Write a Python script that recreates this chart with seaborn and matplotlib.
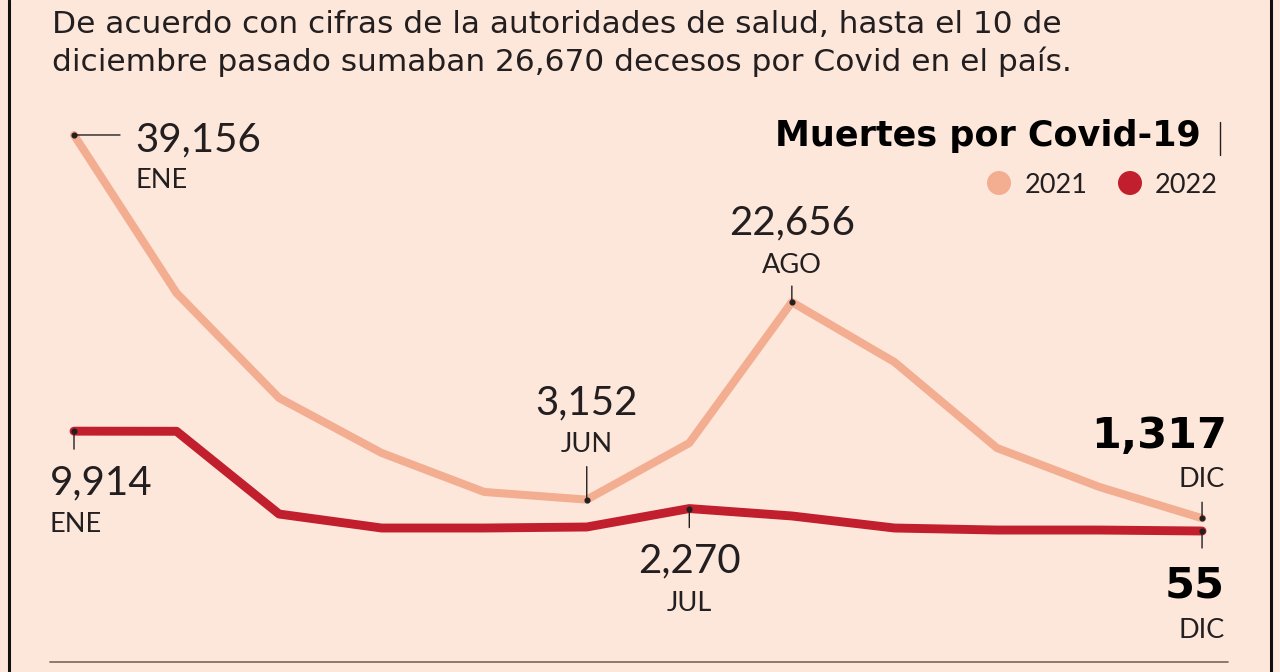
import matplotlib
matplotlib.use("Agg")
import matplotlib.pyplot as plt
from matplotlib.transforms import Affine2D
from matplotlib.patches import Circle
import seaborn as sns
import pandas as pd

# ---------------- data ----------------
months = ["ENE", "FEB", "MAR", "ABR", "MAY", "JUN",
          "JUL", "AGO", "SEP", "OCT", "NOV", "DIC"]
deaths_2021 = [39156, 23550, 13190, 7760, 3910, 3152,
               8740, 22656, 16740, 8250, 4400, 1317]
deaths_2022 = [9914, 9900, 1730, 350, 350, 450,
               2270, 1540, 350, 150, 150, 55]
years = ["2021", "2022"]
intro_lines = ["De acuerdo con cifras de la autoridades de salud, hasta el 10 de",
               "diciembre pasado sumaban 26,670 decesos por Covid en el país."]
chart_title = "Muertes por Covid-19"

# ---------------- style ----------------
BG = "#fde7da"
C21 = "#f3ad91"
C22 = "#c11f2d"
INK = "#231f20"
W, H = 1280, 672

sns.set_theme(style="white")
plt.rcParams["font.family"] = ["Lato", "DejaVu Sans"]
HEAD_FONT = ["DejaVu Sans"]
BOLD_FONT = ["DejaVu Sans"]

df = pd.DataFrame({
    "mes": list(range(12)) * 2,
    "muertes": deaths_2021 + deaths_2022,
    "año": [years[0]] * 12 + [years[1]] * 12,
})

fig = plt.figure(figsize=(W / 100, H / 100), dpi=100, facecolor=BG)
ax = fig.add_axes([0, 0, 1, 1])
ax.set_facecolor(BG)

sns.lineplot(data=df, x="mes", y="muertes", hue="año",
             palette={years[0]: C21, years[1]: C22}, ax=ax,
             legend=False, sort=True, estimator=None)
for ln, lw in zip(ax.lines, [5.8, 6.4]):
    ln.set_linewidth(lw)
    ln.set_solid_capstyle("round")
    ln.set_solid_joinstyle("round")

# map data to pixel layout (x: ENE at px 74, step 102.55 ; y: 0 at px 531.6)
step = 102.55
ax.set_xlim(-74 / step, (W - 74) / step)
k = 0.010128
ax.set_ylim((531.56 - H) / k, 531.56 / k)
ax.axis("off")

# pixel transform (origin top-left)
px = Affine2D().scale(1, -1).translate(0, H)

# ---------------- annotations ----------------
def tick(i, v, dx, dy):
    ax.annotate("", xy=(i, v), xytext=(dx, dy), textcoords="offset pixels",
                arrowprops=dict(arrowstyle="-", lw=1.0, color=INK,
                                shrinkA=0, shrinkB=0))
    ax.plot([i], [v], "o", ms=3.4, color=INK, zorder=5)

def label(i, v, txt, dx, dy, size, ha="center", bold=False):
    if bold:
        ax.annotate(txt, xy=(i, v), xytext=(dx, dy), textcoords="offset pixels",
                    ha=ha, va="baseline", fontsize=size, color="black",
                    fontweight="bold", family=BOLD_FONT)
    else:
        ax.annotate(txt, xy=(i, v), xytext=(dx, dy), textcoords="offset pixels",
                    ha=ha, va="baseline", fontsize=size, color=INK,
                    fontweight="normal")

NUM = 29
MON = 19.5
BNUM = 31

# 2021 ENE
i = 0; v = deaths_2021[i]
tick(i, v, 46, 0)
label(i, v, f"{v:,}", 61, -16, NUM, ha="left")
label(i, v, months[i], 61, -53, MON, ha="left")
# 2021 JUN
i = 5; v = deaths_2021[i]
tick(i, v, 0, 33)
label(i, v, f"{v:,}", 0, 85, NUM)
label(i, v, months[i], 0, 48, MON)
# 2021 AGO
i = 7; v = deaths_2021[i]
tick(i, v, 0, 16)
label(i, v, f"{v:,}", 0, 68, NUM)
label(i, v, months[i], 0, 29, MON)
# 2021 DIC
i = 11; v = deaths_2021[i]
tick(i, v, 0, 16)
label(i, v, f"{v:,}", 25, 70, BNUM, ha="right", bold=True)
label(i, v, months[i], 23, 31, MON, ha="right")
# 2022 ENE
i = 0; v = deaths_2022[i]
tick(i, v, 0, -18)
label(i, v, f"{v:,}", -24, -63, NUM, ha="left")
label(i, v, months[i], -24, -101, MON, ha="left")
# 2022 JUL
i = 6; v = deaths_2022[i]
tick(i, v, 0, -19)
label(i, v, f"{v:,}", 0, -64, NUM)
label(i, v, months[i], 0, -102, MON)
# 2022 DIC
i = 11; v = deaths_2022[i]
tick(i, v, 0, -17)
label(i, v, f"{v:,}", 23, -66, BNUM, ha="right", bold=True)
label(i, v, months[i], 23, -107, MON, ha="right")

# ---------------- header text ----------------
fig.text(52, 33, intro_lines[0], transform=px, ha="left", va="baseline",
         fontsize=22.5, color=INK, family=HEAD_FONT)
fig.text(52, 71, intro_lines[1], transform=px, ha="left", va="baseline",
         fontsize=22.5, color=INK, family=HEAD_FONT)

fig.text(1201, 146, chart_title, transform=px, ha="right", va="baseline",
         fontsize=25.2, color="black", fontweight="bold", family=BOLD_FONT)
fig.add_artist(plt.Line2D([1220, 1220], [122, 155], transform=px,
                          color=INK, lw=1.0))

# legend
for cx, tx, col, yr in [(999, 1025, C21, years[0]), (1130, 1155, C22, years[1])]:
    fig.add_artist(Circle((cx, 183), 12, transform=px, color=col, lw=0))
    fig.text(tx, 193, yr, transform=px, ha="left", va="baseline",
             fontsize=MON, color=INK)

# frame lines
fig.add_artist(plt.Line2D([9, 9], [0, H], transform=px, color="#111111", lw=2.2))
fig.add_artist(plt.Line2D([1271, 1271], [0, H], transform=px, color="#111111", lw=2.2))
fig.add_artist(plt.Line2D([50, 1228], [662, 662], transform=px, color="#7a6654", lw=1.2))

fig.savefig("out.png", dpi=100, facecolor=BG)
